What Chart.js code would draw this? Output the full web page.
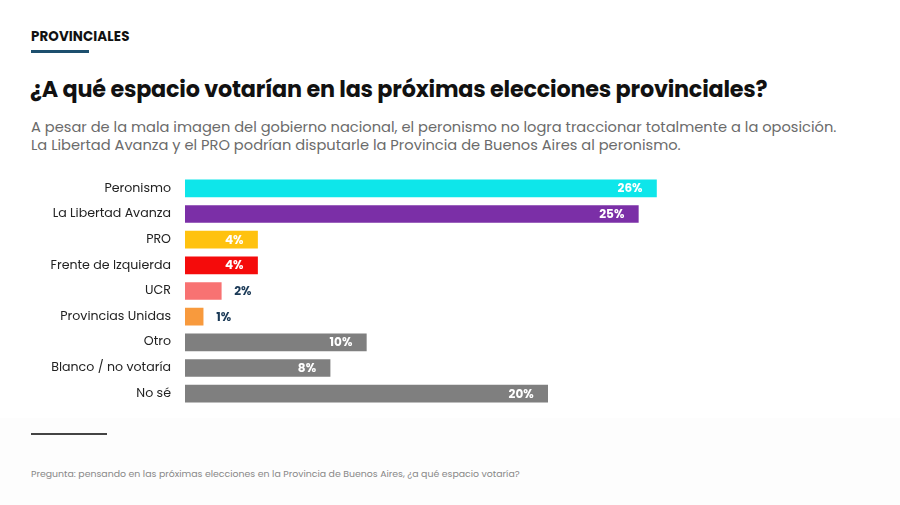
<!DOCTYPE html>
<html><head><meta charset="utf-8">
<script src="https://cdn.jsdelivr.net/npm/chart.js@4"></script>
<style>
html,body{margin:0;padding:0;background:#fff;}
body{width:900px;height:505px;position:relative;overflow:hidden;font-family:"Poppins","Inter","Noto Sans",sans-serif;}
#kicker{position:absolute;left:31px;top:27px;font-size:13.4px;font-weight:700;color:#111;letter-spacing:0.1px;}
#kline{position:absolute;left:31px;top:50px;width:58px;height:3px;background:#1d4f6e;}
#title{position:absolute;left:30px;top:73px;font-size:22.3px;font-weight:700;color:#111;letter-spacing:-0.2px;}
#sub{position:absolute;left:31px;top:118px;font-size:14.65px;line-height:18px;color:#6b6b6b;}
#wrap{position:absolute;left:0;top:154px;width:900px;height:274px;}
#fline{position:absolute;left:31px;top:433px;width:76px;height:2px;background:#444;}
#foot{position:absolute;left:31px;top:467px;font-size:9.4px;color:#888;}
#bottombg{position:absolute;left:0;top:418px;width:900px;height:87px;background:#fdfdfd;}
</style></head>
<body>
<div id="bottombg"></div>
<div id="kicker">PROVINCIALES</div>
<div id="kline"></div>
<div id="title">¿A qué espacio votarían en las próximas elecciones provinciales?</div>
<div id="sub">A pesar de la mala imagen del gobierno nacional, el peronismo no logra traccionar totalmente a la oposición.<br>La Libertad Avanza y el PRO podrían disputarle la Provincia de Buenos Aires al peronismo.</div>
<div id="wrap"><canvas id="c" width="900" height="274"></canvas></div>
<div id="fline"></div>
<div id="foot">Pregunta: pensando en las próximas elecciones en la Provincia de Buenos Aires, ¿a qué espacio votaría?</div>
<script>
const categories = ["Peronismo","La Libertad Avanza","PRO","Frente de Izquierda","UCR","Provincias Unidas","Otro","Blanco / no votaría","No sé"];
const values = [26,25,4,4,2,1,10,8,20];
const barColors = ["#0ee6ea","#7b2fa7","#ffc20f","#f50b0b","#f87272","#f89a3d","#7f7f7f","#7f7f7f","#7f7f7f"];
const FONT = '"Poppins","Inter","Noto Sans",sans-serif';

const labelPlugin = {
  id:'valLabels',
  afterDatasetsDraw(chart){
    const ctx = chart.ctx;
    const meta = chart.getDatasetMeta(0);
    ctx.save();
    ctx.font = 'bold 12px ' + FONT;
    ctx.textBaseline = 'middle';
    meta.data.forEach((bar,i)=>{
      const txt = values[i] + '%';
      if (values[i] >= 3) {
        ctx.fillStyle = '#ffffff';
        ctx.textAlign = 'right';
        ctx.fillText(txt, bar.x - 14, bar.y + 1);
      } else {
        ctx.fillStyle = '#1b3a57';
        ctx.textAlign = 'left';
        ctx.fillText(txt, bar.x + 13, bar.y + 1);
      }
    });
    ctx.restore();
  }
};

new Chart(document.getElementById('c'), {
  type:'bar',
  data:{labels:categories, datasets:[{data:values, backgroundColor:barColors, barThickness:17, borderWidth:0}]},
  options:{
    indexAxis:'y',
    responsive:false,
    animation:false,
    layout:{padding:{top:4,bottom:4,right:171,left:0}},
    plugins:{legend:{display:false},tooltip:{enabled:false}},
    scales:{
      x:{display:false,min:0,max:30},
      y:{
        afterFit(s){ s.width = 185; },
        grid:{display:false,drawTicks:false},
        border:{display:false},
        ticks:{color:'#222',padding:14,font:{size:12.6,family:FONT}}
      }
    }
  },
  plugins:[labelPlugin]
});
</script>
</body></html>
